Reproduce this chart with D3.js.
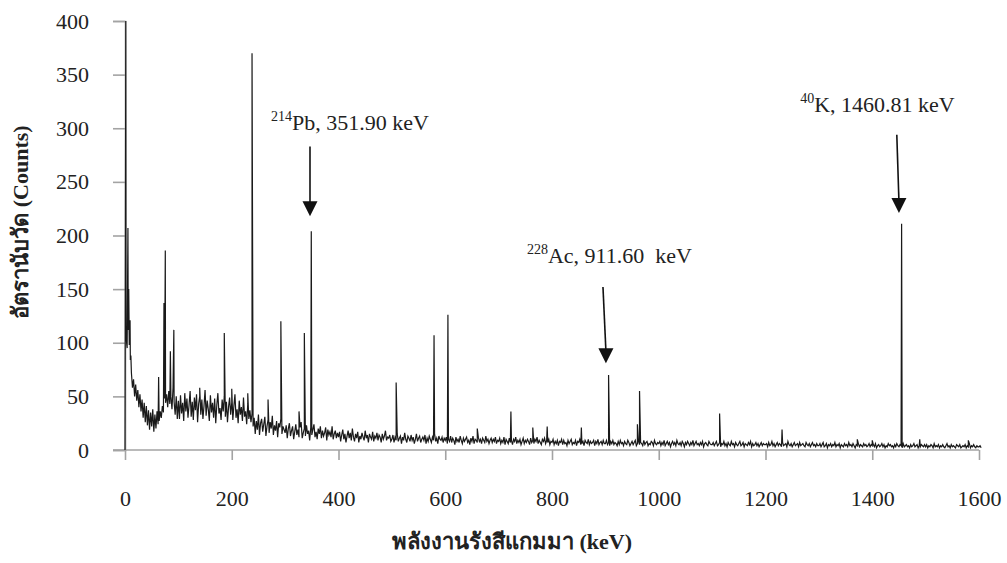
<!DOCTYPE html>
<html lang="th">
<head>
  <meta charset="UTF-8">
  <title>Gamma spectrum</title>
  <script src="https://d3js.org/d3.v7.min.js"></script>
  <style>
    body { margin: 0; background: #fff; }
    text { font-family: "Liberation Serif", "Times New Roman", serif; fill: #222; }
  </style>
</head>
<body>
<div id="chart"></div>
<script>
// background counts, one value every 2 keV starting at 0 keV (one row = 100 keV)
var stepKeV = 2;
var bgCounts = [
  0,105,95,112,98,84,72,58,66,50,61,46,56,40,52,36,47,30,44,26,41,23,37,19,35,22,38,17,33,20,36,24,27,36,30,41,35,48,44,52,40,55,43,50,38,58,45,33,50,29,
  46,29,51,34,44,27,53,36,48,30,42,55,31,45,28,49,37,52,26,43,50,33,47,29,41,56,32,46,38,27,51,35,44,30,48,25,42,53,34,39,28,47,36,50,31,45,26,40,49,33,
  44,28,41,52,30,38,25,46,33,40,27,49,31,36,24,43,29,37,26,34,22,30,15,27,19,33,14,25,29,17,24,31,13,22,28,16,26,20,32,14,23,18,27,12,25,21,29,15,22,19,
  16,23,11,20,25,13,18,22,10,17,24,14,19,12,21,26,11,16,20,13,23,15,18,9,21,14,19,24,12,17,10,20,15,22,11,18,13,16,21,9,19,14,17,12,22,10,15,18,11,16,
  12,17,8,14,19,10,15,7,13,18,11,16,9,20,12,8,15,11,17,7,13,10,16,12,9,18,11,14,7,15,12,10,17,8,13,11,16,9,14,12,7,15,10,13,18,9,12,11,14,8,
  10,14,7,12,9,15,8,11,13,6,12,9,16,10,7,13,11,8,14,9,12,6,10,15,8,11,13,7,10,12,9,14,6,11,8,13,10,7,12,9,15,8,11,6,13,10,9,12,7,11,
  9,12,6,10,8,13,7,11,9,5,12,8,10,7,13,9,6,11,8,10,12,7,9,5,11,8,13,6,10,9,7,12,8,10,6,11,9,7,13,8,10,6,9,11,7,10,8,12,6,9,
  8,11,6,9,7,12,5,10,8,6,11,7,9,5,10,8,12,6,9,7,10,5,8,11,6,9,7,10,8,5,11,7,9,6,10,8,12,6,9,7,5,10,8,11,6,9,7,10,5,8,
  7,10,5,8,6,9,4,8,7,10,5,9,6,7,4,9,6,8,10,5,7,6,9,4,8,7,10,5,6,8,4,9,7,6,10,5,8,6,7,9,4,8,6,10,5,7,8,5,9,6,
  6,9,5,7,4,8,6,9,5,7,6,4,8,5,9,6,7,4,8,6,5,9,7,4,6,8,5,7,9,4,6,8,5,7,6,4,9,5,7,8,4,6,5,8,7,4,9,6,5,7,
  6,8,4,7,5,9,4,6,8,5,7,3,6,8,5,7,4,9,6,5,7,4,8,6,3,7,5,8,6,4,7,5,9,4,6,8,5,6,4,7,5,8,3,6,7,5,4,8,6,5,
  5,7,4,6,8,4,5,7,3,6,5,8,4,6,3,7,5,4,8,5,6,3,7,5,4,6,8,4,5,7,3,6,5,4,7,5,8,3,6,4,5,7,4,6,3,5,7,4,6,5,
  5,6,3,7,4,5,8,4,6,3,5,7,4,6,5,3,7,4,5,6,3,8,5,4,6,3,5,7,4,5,6,3,7,4,5,6,4,3,7,5,4,6,3,5,7,4,5,3,6,4,
  4,6,3,5,7,3,4,6,2,5,4,6,3,5,4,7,3,5,4,6,2,5,4,3,6,4,5,3,7,4,5,3,6,4,2,5,4,6,3,5,4,3,6,4,5,3,4,6,3,5,
  4,5,3,6,2,4,5,3,4,6,3,5,2,4,3,6,4,5,3,4,2,5,3,6,4,3,5,4,2,6,3,4,5,3,4,2,5,3,4,6,3,4,5,2,4,3,5,4,3,5,
  3,5,2,4,3,5,4,2,6,3,4,3,5,2,4,3,5,3,2,4,6,3,4,2,5,3,4,3,2,5,4,3,5,2,3,4,3,5,2,4,3,6,2,4,3,5,3,2,4,3,
  3,4,2
];

// peak channels: energy (keV) and counts
var peakEnergy = [1.5, 5.5, 7, 9.5, 11, 63, 73, 75.5, 85, 91.5, 140, 186, 200, 230, 238, 268, 292, 326, 336, 349,
                  508, 579, 605, 660, 723, 764, 791, 855, 906, 960, 964, 1114, 1231, 1372, 1400, 1455, 1489, 1580];
var peakCounts = [400, 207, 150, 121, 88, 68, 137, 186, 92, 112, 58, 109, 57, 53, 370, 47, 120, 36, 109, 204,
                  63, 107, 126, 20, 36, 21, 22, 21, 70, 24, 55, 34, 19, 10, 9, 211, 10, 9];

var xTicks = [0, 200, 400, 600, 800, 1000, 1200, 1400, 1600];
var yTicks = [0, 50, 100, 150, 200, 250, 300, 350, 400];

// annotations (data units)
var annoIsotope = ["214", "228", "40"];
var annoText = ["Pb, 351.90 keV", "Ac, 911.60  keV", "K, 1460.81 keV"];
var annoTextE = [273.5, 753, 1265];
var annoTextC = [298, 174, 315];
var arrowTopE = [346.6, 895.5, 1446];
var arrowTopC = [283, 152, 294];
var arrowTipE = [346.6, 901, 1450];
var arrowTipC = [218, 81, 221];

var W = 1007, H = 563;
var margin = {top: 21, right: 28, bottom: 113, left: 125};
var width = W - margin.left - margin.right,
    height = H - margin.top - margin.bottom;

var svg = d3.select("#chart").append("svg")
  .attr("width", W).attr("height", H);
var g = svg.append("g")
  .attr("transform", "translate(" + margin.left + "," + margin.top + ")");

var x = d3.scaleLinear().domain([0, 1600]).range([0, width]);
var y = d3.scaleLinear().domain([0, 400]).range([height, 0]);

var points = bgCounts.map(function(c, i) { return {e: i * stepKeV, c: c}; });
peakEnergy.forEach(function(e, i) { points.push({e: e, c: peakCounts[i]}); });
points.sort(function(a, b) { return a.e - b.e; });

// axes
var axisColor = "#a3a3a3";
var yAxis = g.append("g")
  .call(d3.axisLeft(y).tickValues(yTicks).tickSize(12).tickPadding(24));
var xAxis = g.append("g")
  .attr("transform", "translate(0," + height + ")")
  .call(d3.axisBottom(x).tickValues(xTicks).tickFormat(d3.format("d")).tickSize(10).tickPadding(30));

[yAxis, xAxis].forEach(function(a) {
  a.attr("font-family", null);
  a.select(".domain").attr("stroke", axisColor).attr("stroke-width", 1.6);
  a.selectAll(".tick line").attr("stroke", axisColor).attr("stroke-width", 1.6);
  a.selectAll(".tick text")
    .style("font-family", "'Liberation Serif', serif")
    .style("font-size", "22px").attr("fill", "#222");
});
// x axis line also runs under the zero tick of y axis
xAxis.select(".domain").attr("d", "M-12,0H" + width);

// spectrum
var line = d3.line()
  .x(function(d) { return x(d.e); })
  .y(function(d) { return y(d.c); });

g.append("path")
  .datum(points)
  .attr("fill", "none")
  .attr("stroke", "#1a1a1a")
  .attr("stroke-width", 1.2)
  .attr("d", line);

// annotations
annoText.forEach(function(t, i) {
  var tx = g.append("text")
    .attr("x", x(annoTextE[i]))
    .attr("y", y(annoTextC[i]))
    .attr("xml:space", "preserve")
    .style("white-space", "pre")
    .style("font-size", "22px");
  tx.append("tspan").text(annoIsotope[i]).style("font-size", "14px").attr("dy", -9);
  tx.append("tspan").text(t).attr("dy", 9);

  var x0 = x(arrowTopE[i]), y0 = y(arrowTopC[i]);
  var x1 = x(arrowTipE[i]), y1 = y(arrowTipC[i]);
  g.append("line")
    .attr("x1", x0).attr("y1", y0)
    .attr("x2", x1).attr("y2", y1 - 12)
    .attr("stroke", "#111").attr("stroke-width", 1.6);
  g.append("path")
    .attr("d", "M" + (x1 - 7.5) + "," + (y1 - 15) + "L" + (x1 + 7.5) + "," + (y1 - 15) + "L" + x1 + "," + y1 + "Z")
    .attr("fill", "#111");
});

// axis titles
svg.append("text")
  .attr("x", 512).attr("y", 549)
  .attr("text-anchor", "middle")
  .style("font-size", "22px").style("font-weight", "bold")
  .text("พลังงานรังสีแกมมา (keV)");

svg.append("text")
  .attr("transform", "translate(28,222) rotate(-90)")
  .attr("text-anchor", "middle")
  .style("font-size", "22px").style("font-weight", "bold")
  .text("อัตรานับวัด (Counts)");
</script>
</body>
</html>
